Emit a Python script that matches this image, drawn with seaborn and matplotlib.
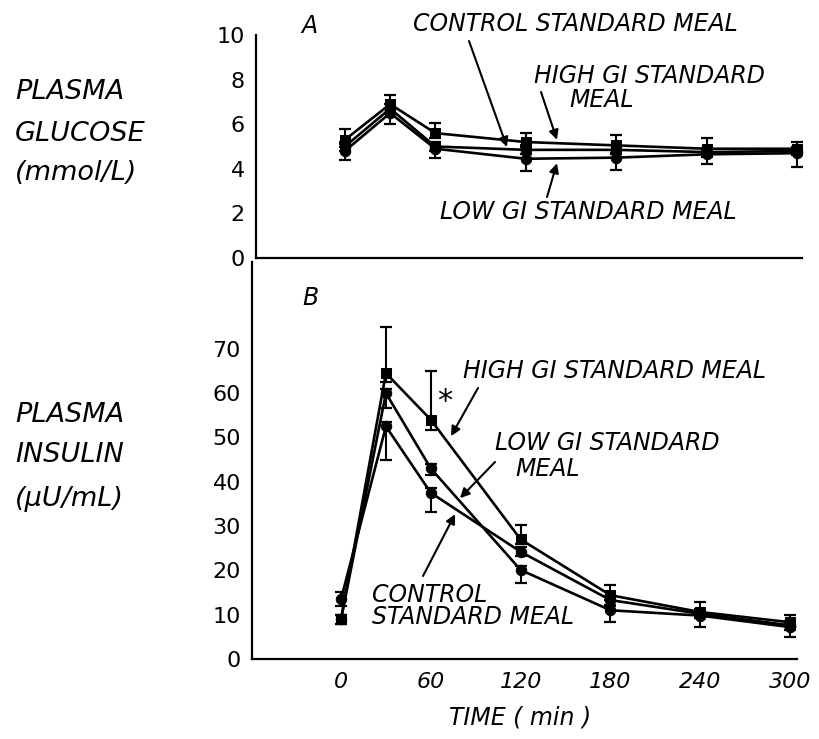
import numpy as np
import pandas as pd
import matplotlib
matplotlib.use("Agg")
import matplotlib.pyplot as plt
import seaborn as sns

# ---------------- data ----------------
times = [0, 30, 60, 120, 180, 240, 300]
meals = ["HIGH GI", "LOW GI", "CONTROL"]

glu_high = [5.3, 6.9, 5.6, 5.2, 5.05, 4.9, 4.9]
glu_low = [4.8, 6.5, 4.9, 4.45, 4.5, 4.65, 4.7]
glu_ctrl = [5.0, 6.7, 5.0, 4.85, 4.85, 4.75, 4.8]

glu_high_up = [0.5, 0.4, 0.45, 0.4, 0.45, 0.5, 0.3]
glu_high_lo = [0.2, 0.2, 0.2, 0.2, 0.2, 0.2, 0.2]
glu_low_up = [0.2, 0.2, 0.2, 0.2, 0.2, 0.2, 0.2]
glu_low_lo = [0.4, 0.5, 0.4, 0.55, 0.55, 0.45, 0.6]
glu_ctrl_up = [0.2, 0.2, 0.2, 0.2, 0.2, 0.2, 0.2]
glu_ctrl_lo = [0.2, 0.2, 0.2, 0.2, 0.2, 0.2, 0.2]

ins_high = [9.0, 64.5, 54.0, 27.0, 14.4, 10.6, 8.3]
ins_low = [9.0, 60.0, 43.0, 20.1, 11.0, 9.8, 7.2]
ins_ctrl = [13.5, 52.5, 37.5, 24.2, 13.3, 10.2, 7.6]

ins_high_up = [1.0, 10.5, 11.0, 3.2, 2.3, 2.3, 1.6]
ins_high_lo = [1.0, 2.0, 2.3, 1.0, 1.0, 1.0, 1.0]
ins_low_up = [1.0, 1.0, 1.0, 1.0, 1.0, 1.0, 1.0]
ins_low_lo = [1.0, 3.3, 1.5, 3.0, 2.6, 2.5, 2.3]
ins_ctrl_up = [1.6, 1.0, 1.0, 1.0, 1.0, 1.0, 1.0]
ins_ctrl_lo = [1.5, 7.5, 4.3, 1.0, 1.0, 1.0, 1.0]

glu_ticks = [0, 2, 4, 6, 8, 10]
ins_ticks = [0, 10, 20, 30, 40, 50, 60, 70]
time_ticks = [0, 60, 120, 180, 240, 300]

# ---------------- style ----------------
sns.set_theme(style="white")
plt.rcParams["font.family"] = ["DejaVu Sans"]
plt.rcParams["axes.linewidth"] = 1.6
plt.rcParams["text.color"] = "black"
plt.rcParams["axes.labelcolor"] = "black"
plt.rcParams["xtick.color"] = "black"
plt.rcParams["ytick.color"] = "black"

W, H = 820, 739
fig = plt.figure(figsize=(W / 100, H / 100), dpi=100)


def fp(x, y):
    return (x / W, 1 - y / H)


def axes_px(left, top, right, bottom):
    return [left / W, 1 - bottom / H, (right - left) / W, (bottom - top) / H]


ax1 = fig.add_axes(axes_px(256, 35, 802, 258))
ax2 = fig.add_axes(axes_px(252, 262, 797, 659))

markers = {"HIGH GI": "s", "LOW GI": "o", "CONTROL": "o"}


def draw_panel(ax, series, errs):
    df = pd.concat(
        [pd.DataFrame({"time": times, "value": v, "meal": m}) for m, v in zip(meals, series)],
        ignore_index=True,
    )
    sns.lineplot(
        data=df, x="time", y="value", style="meal", markers=markers, dashes=False,
        color="black", linewidth=1.9, markersize=7.5, markeredgecolor="black",
        legend=False, estimator=None, errorbar=None, ax=ax,
    )
    for v, (lo, hi) in zip(series, errs):
        ax.errorbar(times, v, yerr=[lo, hi], fmt="none", ecolor="black",
                    elinewidth=1.5, capsize=4.5, capthick=1.6, clip_on=False)
    for ln in ax.lines:
        ln.set_clip_on(False)
    sns.despine(ax=ax)
    ax.set_xlabel("")
    ax.set_ylabel("")
    ax.set_xticks(time_ticks)
    ax.tick_params(axis="both", direction="in", width=1.6, colors="black")
    ax.tick_params(axis="y", length=11, pad=8, labelsize=16)
    ax.tick_params(axis="x", length=8, pad=9, labelsize=16)
    for s in ax.spines.values():
        s.set_color("black")


draw_panel(ax1, [glu_high, glu_low, glu_ctrl],
           [(glu_high_lo, glu_high_up), (glu_low_lo, glu_low_up), (glu_ctrl_lo, glu_ctrl_up)])
draw_panel(ax2, [ins_high, ins_low, ins_ctrl],
           [(ins_high_lo, ins_high_up), (ins_low_lo, ins_low_up), (ins_ctrl_lo, ins_ctrl_up)])

ax1.set_xlim(-59, 303.3)
ax1.set_ylim(0, 10)
ax1.set_yticks(glu_ticks)
ax1.set_xticklabels([])

ax2.set_xlim(-59.5, 304.7)
ax2.set_ylim(0, 89.6)
ax2.set_yticks(ins_ticks)
ax2.set_xticklabels([str(t) for t in time_ticks], style="italic")

tkw = dict(fontsize=17, style="italic", color="black", ha="left", va="center")
akw = dict(arrowstyle="-|>", color="black", lw=1.5, mutation_scale=14, shrinkA=0, shrinkB=0)

# left axis titles
lab = dict(fontsize=19.5, style="italic", color="black", ha="left", va="center")
fig.text(*fp(15, 92), "PLASMA", **lab)
fig.text(*fp(15, 134), "GLUCOSE", **lab)
fig.text(*fp(15, 173), "(mmol/L)", **lab)
fig.text(*fp(15, 415), "PLASMA", **lab)
fig.text(*fp(15, 455), "INSULIN", **lab)
fig.text(*fp(15, 499), "(\u00b5U/mL)", **lab)

fig.text(*fp(520, 718), "TIME ( min )", fontsize=17, style="italic", color="black",
         ha="center", va="center")

# panel A annotations
fig.text(*fp(301, 26), "A", **tkw)
fig.text(*fp(413, 24), "CONTROL STANDARD MEAL", **tkw)
fig.text(*fp(534, 76), "HIGH GI STANDARD", **tkw)
fig.text(*fp(569, 100), "MEAL", **tkw)
fig.text(*fp(440, 212), "LOW GI STANDARD MEAL", **tkw)
ax1.annotate("", xy=(107.5, 4.98), xytext=fp(469, 41), textcoords="figure fraction", arrowprops=akw)
ax1.annotate("", xy=(140.7, 5.3), xytext=fp(541, 92), textcoords="figure fraction", arrowprops=akw)
ax1.annotate("", xy=(140.7, 4.25), xytext=fp(547, 197), textcoords="figure fraction", arrowprops=akw)

# panel B annotations
fig.text(*fp(302, 298), "B", **tkw)
fig.text(*fp(463, 371), "HIGH GI STANDARD MEAL", **tkw)
fig.text(*fp(437, 402), "*", fontsize=22, color="black", ha="left", va="center")
fig.text(*fp(495, 443), "LOW GI STANDARD", **tkw)
fig.text(*fp(515, 469), "MEAL", **tkw)
fig.text(*fp(372, 595), "CONTROL", **tkw)
fig.text(*fp(372, 617), "STANDARD MEAL", **tkw)
ax2.annotate("", xy=(73.5, 50.3), xytext=fp(478, 388), textcoords="figure fraction", arrowprops=akw)
ax2.annotate("", xy=(79.5, 36.3), xytext=fp(495, 462), textcoords="figure fraction", arrowprops=akw)
ax2.annotate("", xy=(76.2, 32.7), xytext=fp(423, 576), textcoords="figure fraction", arrowprops=akw)

fig.savefig("out.png", dpi=100, facecolor="white")
